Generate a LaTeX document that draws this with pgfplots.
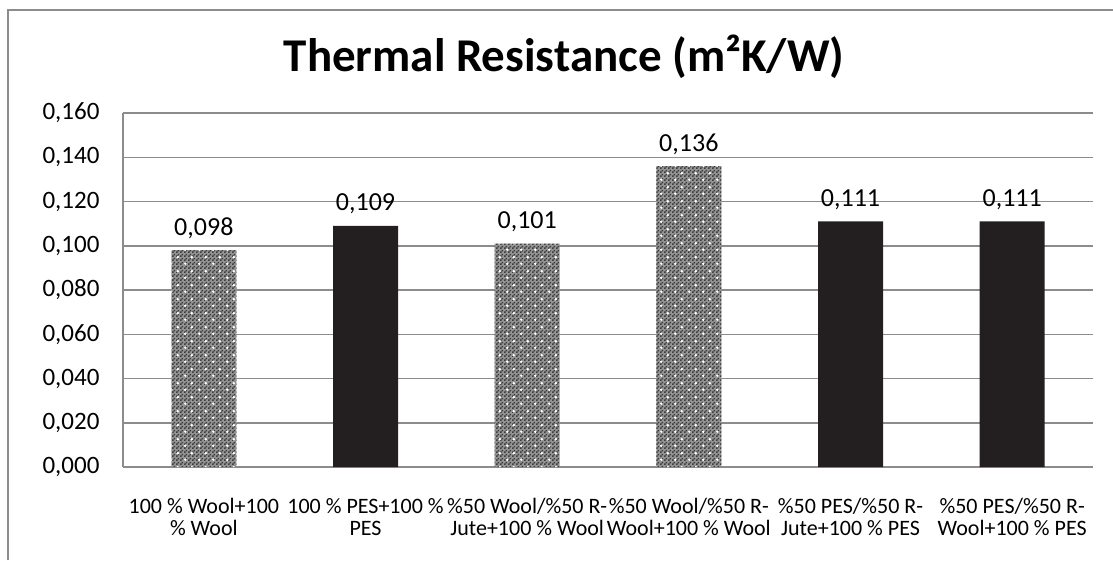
\documentclass[border=0pt]{standalone}
\usepackage{pgfplots}
\pgfplotsset{compat=1.18}
\usepackage{fontspec}
\setmainfont{Carlito}
\usetikzlibrary{patterns}
\definecolor{gridc}{HTML}{8C8C8C}
\definecolor{barblack}{HTML}{231F20}
\definecolor{lightg}{HTML}{959595}
\definecolor{darkg}{HTML}{3C3C3C}
\pgfdeclarepatternformonly{checker}{\pgfqpoint{0pt}{0pt}}{\pgfqpoint{4pt}{4pt}}{\pgfqpoint{4pt}{4pt}}{%
 \pgfpathrectangle{\pgfqpoint{0pt}{0pt}}{\pgfqpoint{2pt}{2pt}}%
 \pgfpathrectangle{\pgfqpoint{2pt}{2pt}}{\pgfqpoint{2pt}{2pt}}%
 \pgfusepath{fill}}
\pgfdeclarepatternformonly{wdots}{\pgfqpoint{0pt}{0pt}}{\pgfqpoint{14pt}{14pt}}{\pgfqpoint{14pt}{14pt}}{%
 \pgfpathcircle{\pgfqpoint{3.5pt}{3.5pt}}{1.5pt}%
 \pgfpathcircle{\pgfqpoint{10.5pt}{10.5pt}}{1.5pt}%
 \pgfusepath{fill}}
\begin{document}
\begin{tikzpicture}
\path[use as bounding box] (0,0) rectangle (1113pt,-560pt);
\draw[gridc, line width=1.5pt] (8pt,-560pt) -- (8pt,-10pt) -- (1113pt,-10pt);
\node[font=\bfseries\fontsize{47}{54}\selectfont, anchor=base, inner sep=0pt] at (564pt,-71pt) {Thermal Resistance (m²K/W)};
\begin{axis}[
  at={(123pt,-467pt)}, anchor=south west,
  scale only axis, width=970pt, height=354pt,
  xmin=-0.5, xmax=5.5, ymin=0, ymax=0.16,
  ytick={0,0.02,0.04,0.06,0.08,0.1,0.12,0.14,0.16},
  scaled y ticks=false,
  /pgf/number format/assume math mode=true,
  yticklabel style={xshift=-20pt, /pgf/number format/fixed, /pgf/number format/fixed zerofill, /pgf/number format/precision=3, /pgf/number format/use comma},
  ymajorgrids, grid style={gridc, line width=1.5pt},
  axis x line*=bottom, axis y line*=left,
  axis line style={gridc, line width=1.5pt, -},
  major tick length=0pt,
  tick label style={font=\fontsize{25}{30}\selectfont},
  xtick={0,1,2,3,4,5},
  xticklabel style={font=\fontsize{22}{22}\selectfont, align=center, yshift=-28pt},
  xticklabels={{100 \% Wool+100\\\% Wool},{100 \% PES+100 \%\\PES},{\%50 Wool/\%50 R-\\Jute+100 \% Wool},{\%50 Wool/\%50 R-\\Wool+100 \% Wool},{\%50 PES/\%50 R-\\Jute+100 \% PES},{\%50 PES/\%50 R-\\Wool+100 \% PES}},
  ybar, bar width=65pt, bar shift=0pt,
  nodes near coords,
  every node near coord/.append style={font=\fontsize{26}{30}\selectfont, yshift=8pt, /pgf/number format/fixed, /pgf/number format/fixed zerofill, /pgf/number format/precision=3, /pgf/number format/use comma},
]
\addplot[draw=none, fill=lightg, postaction={pattern=checker, pattern color=darkg}, postaction={pattern=wdots, pattern color=white}]
  coordinates {(0,0.098) (2,0.101) (3,0.136)};
\addplot[draw=none, fill=barblack] coordinates {(1,0.109) (4,0.111) (5,0.111)};
\end{axis}
\end{tikzpicture}
\end{document}
